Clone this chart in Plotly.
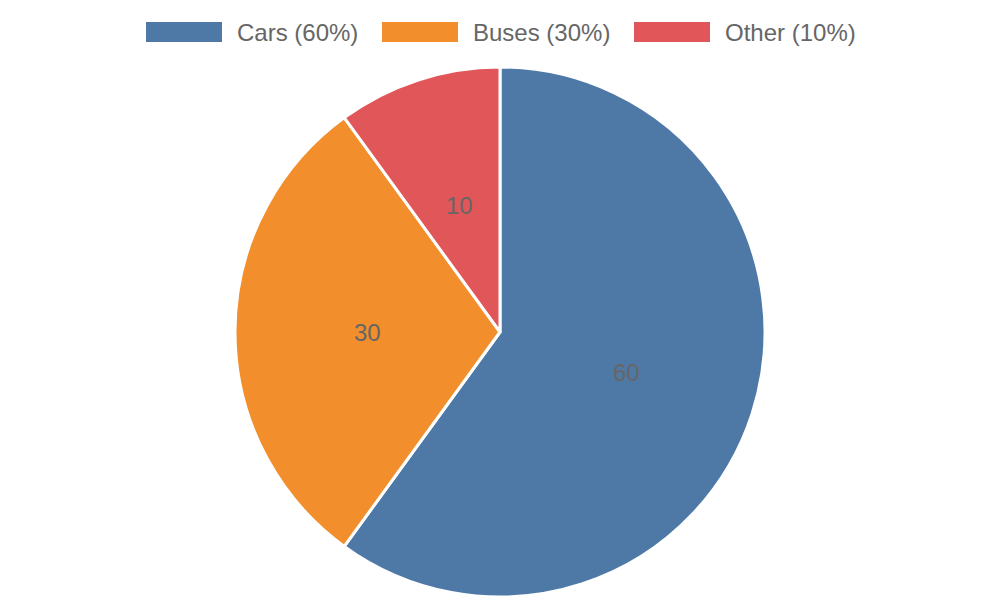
import math
import plotly.graph_objects as go

categories = ["Cars", "Buses", "Other"]
values = [60, 30, 10]
colors = ["#4e79a7", "#f28e2b", "#e15759"]

W, H = 1000, 600
cx, cy, R = 500, 332, 265  # pie center/radius in pixels (layout)
FONT = "Liberation Sans, Arial, Helvetica, sans-serif"
TXT = "#666666"

fig = go.Figure()
fig.add_trace(go.Pie(
    labels=categories, values=values, sort=False, direction="clockwise",
    rotation=0, marker=dict(colors=colors, line=dict(color="white", width=3)),
    textinfo="none", hoverinfo="label+value", showlegend=False,
    domain=dict(x=[(cx - R) / W, (cx + R) / W], y=[(H - cy - R) / H, (H - cy + R) / H]),
))

# value labels at half radius along each slice bisector
total = sum(values)
annotations = []
cum = 0
for c, v in zip(categories, values):
    mid = (cum + v / 2) / total * 2 * math.pi
    cum += v
    px = cx + 0.5 * R * math.sin(mid)
    py = cy - 0.5 * R * math.cos(mid)
    annotations.append(dict(x=px / W, y=1 - py / H, xref="paper", yref="paper",
                            text=str(v), showarrow=False, xanchor="center", yanchor="middle",
                            font=dict(family=FONT, size=24, color=TXT)))

# custom legend (wide colour boxes as in the reference)
legend_box_x = [146, 382, 634]
box_w, box_top, box_bot = 76, 22, 42
shapes = []
for c, v, col, bx in zip(categories, values, colors, legend_box_x):
    shapes.append(dict(type="rect", xref="paper", yref="paper",
                       x0=bx / W, x1=(bx + box_w) / W, y0=1 - box_bot / H, y1=1 - box_top / H,
                       fillcolor=col, line=dict(width=0)))
    pct = round(v / total * 100)
    annotations.append(dict(x=(bx + box_w + 13) / W, y=1 - 32 / H, xref="paper", yref="paper",
                            text=f"{c} ({pct}%)", showarrow=False, xanchor="left", yanchor="middle",
                            font=dict(family=FONT, size=24, color=TXT)))

fig.update_layout(
    width=W, height=H, margin=dict(l=0, r=0, t=0, b=0),
    paper_bgcolor="white", plot_bgcolor="white",
    annotations=annotations, shapes=shapes,
)
fig.write_html("out.html", config={"displayModeBar": False},
               post_script="document.body.style.margin='0';")
